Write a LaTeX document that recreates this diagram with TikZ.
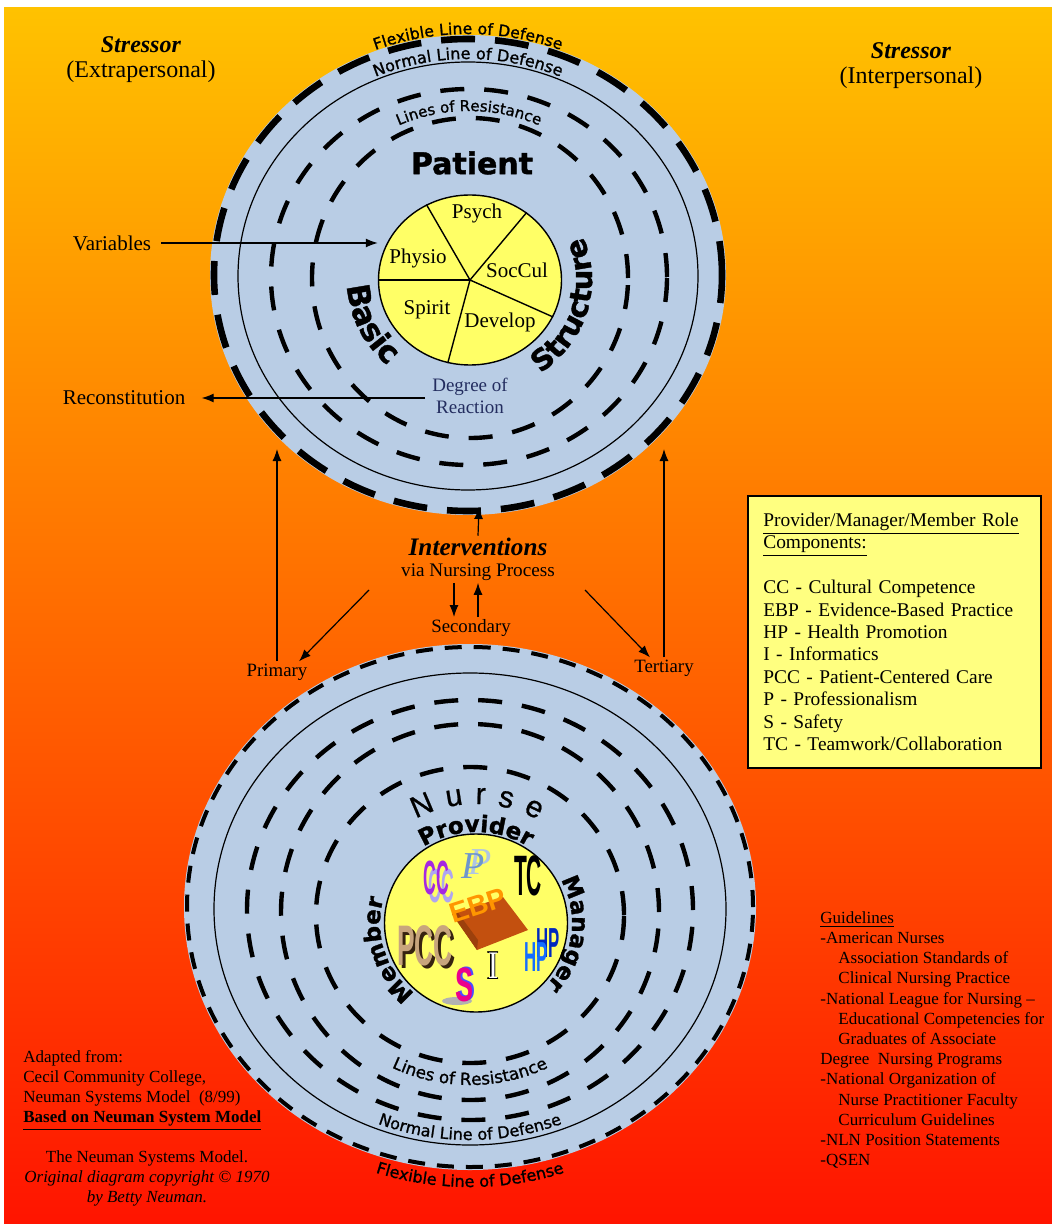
\documentclass[tikz,border=0pt]{standalone}
\usepackage{fontspec}
\usepackage{graphicx}
\setmainfont{Liberation Serif}
\newfontfamily\curvefont{DejaVu Sans}[FakeBold=1.2]
\newfontfamily\heavyfont{DejaVu Sans}[BoldFeatures={FakeBold=1.3}]
\newfontfamily\blockfont{Liberation Sans}
\newfontfamily\nursefont{Liberation Sans}[FakeBold=0.8]
\usetikzlibrary{arrows.meta,decorations.text,shapes.geometric,positioning}

\definecolor{bgtop}{RGB}{255,194,0}
\definecolor{bgmid}{RGB}{255,140,0}
\definecolor{bgbot}{RGB}{255,20,0}
\definecolor{ringblue}{RGB}{185,205,229}
\definecolor{coreyellow}{RGB}{255,255,102}
\definecolor{boxyellow}{RGB}{255,255,128}
\definecolor{reactblue}{RGB}{35,45,95}
\definecolor{ccpurple}{RGB}{165,40,225}
\definecolor{cclav}{RGB}{175,165,240}
\definecolor{pblue}{RGB}{110,150,205}
\definecolor{ebporange}{RGB}{255,150,0}
\definecolor{ebpbrown}{RGB}{195,80,15}
\definecolor{pcctan}{RGB}{200,165,125}
\definecolor{pccdark}{RGB}{55,35,15}
\definecolor{hpblue}{RGB}{20,110,255}
\definecolor{hpdark}{RGB}{0,40,190}

\newcommand\arcsize[1]{\curvefont\fontsize{#1}{#1}\selectfont}
\newcommand\heavysize[1]{\heavyfont\bfseries\fontsize{#1}{#1}\selectfont}

\begin{document}
\begin{tikzpicture}[x=0.5pt,y=0.5pt,
    arr/.style={-{Latex[length=6pt,width=4.5pt]},line width=0.6pt},
    flexring/.style={line width=3.3pt,dash pattern=on 17pt off 10pt},
    flexthin/.style={line width=2pt,dash pattern=on 8.5pt off 6pt},
    normring/.style={line width=0.6pt},
    resring/.style={line width=2.2pt,dash pattern=on 12pt off 10pt},
    core/.style={ellipse,draw,line width=0.7pt,fill=coreyellow,inner sep=0pt},
    lbl/.style={inner sep=1pt,font=\fontsize{10.5}{12}\selectfont},
    sml/.style={inner sep=1pt,font=\fontsize{9.4}{11}\selectfont},
    mark/.style={inner sep=0pt,font=\blockfont\bfseries\fontsize{#1}{#1}\selectfont}]

  % background
  \fill[white] (0,0) rectangle (1052,-1224);
  \shade[top color=bgtop,middle color=bgmid,bottom color=bgbot] (4,-8) rectangle (1052,-1224);

  % stressors
  \node[align=center,font=\fontsize{12}{12.5}\selectfont] (strL) at (141,-60) {\textbf{\textit{Stressor}}\\(Extrapersonal)};
  \node[align=center,font=\fontsize{12}{12.5}\selectfont] (strR) at (911,-66) {\textbf{\textit{Stressor}}\\(Interpersonal)};

  % patient circle
  \fill[ringblue] (468,-275) ellipse[x radius=258,y radius=240];
  \draw[flexring] (468,-275) ellipse[x radius=254,y radius=236];
  \draw[normring] (468,-276) ellipse[x radius=230,y radius=214];
  \draw[resring] (469,-277) ellipse[x radius=198,y radius=188];
  \draw[resring] (470,-278) ellipse[x radius=158,y radius=160];
  \path[decorate,decoration={text along path,text align=center,raise=1.5pt,
      text={|\arcsize{7.8}|Flexible Line of Defense}}]
    (468,-275) ++(140:256 and 238) arc[start angle=140,end angle=40,x radius=256,y radius=238];
  \path[decorate,decoration={text along path,text align=center,raise=1pt,
      text={|\arcsize{8}|Normal Line of Defense}}]
    (468,-276) ++(140:231 and 215) arc[start angle=140,end angle=40,x radius=231,y radius=215];
  \path[decorate,decoration={text along path,text align=center,
      text={|\arcsize{7.5}|Lines of Resistance}}]
    (469,-277) ++(140:172 and 166) arc[start angle=140,end angle=40,x radius=172,y radius=166];

  \node[font=\heavysize{15}] (patient) at (472,-163) {Patient};
  \node[core,minimum width=91.5pt,minimum height=85pt] (pcore) at (470,-280) {};
  \foreach \a in {120,50,336,255,180}
    \draw[line width=0.7pt] (pcore.center) -- (pcore.\a);
  \node[lbl] (psych) at (477,-213) {Psych};
  \node[lbl] (physio) at (418,-258) {Physio};
  \node[lbl] (soccul) at (517,-270) {SocCul};
  \node[lbl] (spirit) at (427,-310) {Spirit};
  \node[lbl] (develop) at (500,-322) {Develop};
  \path[decorate,decoration={text along path,text align=center,
      text={|\heavysize{15.5}|Basic}}]
    (470,-280) ++(160:123 and 115) arc[start angle=160,end angle=250,x radius=123,y radius=115];
  \path[decorate,decoration={text along path,text align=center,
      text={|\heavysize{14.5}|Structure}}]
    (470,-280) ++(-70:122 and 114) arc[start angle=-70,end angle=38,x radius=122,y radius=114];
  \node[align=center,text=reactblue,font=\fontsize{9.5}{11}\selectfont] (react) at (470,-396) {Degree of\\Reaction};

  % variables in, reconstitution out
  \node[lbl] (vars) at (112,-243) {Variables};
  \node[lbl] (recon) at (124,-398) {Reconstitution};
  \draw[arr,shorten <=4pt] (vars.east) -- (vars.east -| pcore.west);
  \draw[arr,shorten >=7pt] (react.west |- recon.east) -- (recon.east);

  % interventions
  \coordinate (pbot) at (479,-507);
  \coordinate (ptop) at (0,-449);
  \coordinate (fanL) at (369,-590);
  \coordinate (fanR) at (585,-590);
  \node[inner sep=1pt,font=\bfseries\itshape\fontsize{12.6}{13}\selectfont] (interv) at (478,-547) {Interventions};
  \node[sml,font=\fontsize{9.6}{11}\selectfont] (via) at (478,-572) {via Nursing Process};
  \node[sml] (second) at (471,-628) {Secondary};
  \node[sml] (primary) at (277,-672) {Primary};
  \node[sml] (tertiary) at (664,-668) {Tertiary};
  \draw[arr] (interv.north) -- (pbot);
  \draw[arr] ([xshift=-12pt]via.south) -- ([xshift=-12pt]via.south |- second.north);
  \draw[arr] (second.north -| interv.north) -- (via.south -| interv.north);
  \draw[arr] (fanL) -- ([xshift=11pt]primary.north);
  \draw[arr] (fanR) -- ([xshift=-7pt]tertiary.north);
  \draw[arr] (primary.north) -- (primary.north |- ptop);
  \draw[arr] (tertiary.north) -- (tertiary.north |- ptop);

  % nurse circle
  \fill[ringblue] (470,-907) ellipse[x radius=286,y radius=263];
  \draw[flexthin] (470,-907) ellipse[x radius=283,y radius=260];
  \draw[normring] (470,-909) ellipse[x radius=256,y radius=236];
  \draw[resring] (470,-910) ellipse[x radius=223,y radius=210];
  \draw[resring] (470,-912) ellipse[x radius=189,y radius=188];
  \draw[resring] (470,-915) ellipse[x radius=154,y radius=148];
  \path[decorate,decoration={text along path,text align=center,
      text={|\arcsize{8.4}|Lines of Resistance}}]
    (470,-913) ++(215:178 and 172) arc[start angle=215,end angle=325,x radius=178,y radius=172];
  \path[decorate,decoration={text along path,text align=center,
      text={|\arcsize{8}|Normal Line of Defense}}]
    (470,-909) ++(215:250 and 231) arc[start angle=215,end angle=325,x radius=250,y radius=231];
  \path[decorate,decoration={text along path,text align=center,
      text={|\arcsize{8}|Flexible Line of Defense}}]
    (470,-907) ++(215:298 and 280) arc[start angle=215,end angle=325,x radius=298,y radius=280];

  \node[core,minimum width=91.5pt,minimum height=89pt] (ncore) at (476,-923) {};
  \path[decorate,decoration={text along path,text align=fit to path,
      text={|\nursefont\fontsize{15}{15}\selectfont|Nurse}}]
    (476,-923) ++(119:124 and 119) arc[start angle=119,end angle=60,x radius=124,y radius=119];
  \path[decorate,decoration={text along path,text align=center,
      text={|\heavysize{11.5}|Provider}}]
    (476,-923) ++(160:96 and 91) arc[start angle=160,end angle=20,x radius=96,y radius=91];
  \path[decorate,decoration={text along path,text align=center,
      text={|\heavysize{11.5}|Manager}}]
    (476,-923) ++(55:96 and 91) arc[start angle=55,end angle=-69,x radius=96,y radius=91];
  \path[decorate,decoration={text along path,text align=center,
      text={|\heavysize{11.5}|Member}}]
    (476,-923) ++(260:96 and 91) arc[start angle=260,end angle=134,x radius=96,y radius=91];

  % role marks
  \node[mark=16,text=cclav] (cc2) at (441,-886) {\scalebox{0.55}[1.5]{CC}};
  \node[mark=16,text=ccpurple] (cc) at (436,-878) {\scalebox{0.55}[1.5]{CC}};
  \node[inner sep=0pt,text=pblue!55,font=\itshape\fontsize{19}{19}\selectfont] (p2) at (480,-862) {P};
  \node[inner sep=0pt,text=pblue,font=\itshape\fontsize{19}{19}\selectfont] (p) at (473,-866) {P};
  \node[mark=15] (tc) at (528,-876) {\scalebox{0.7}[1.9]{TC}};
  \fill[ebpbrown] (452,-914) -- (503,-897) -- (528,-930) -- (477,-950) -- cycle;
  \fill[ebpbrown!80!black] (452,-914) -- (477,-950) -- (478,-940) -- (456,-910) -- cycle;
  \node[mark=14,text=ebporange,rotate=18] (ebp) at (478,-905) {EBP};
  \node[mark=22,text=pccdark] (pcc2) at (428,-949) {\scalebox{0.6}[1.3]{PCC}};
  \node[mark=22,text=pcctan] (pcc) at (425,-946) {\scalebox{0.6}[1.3]{PCC}};
  \fill[gray!60] (457,-1001) ellipse[x radius=15,y radius=4];
  \node[mark=15,text=blue!70] (s2) at (466,-984) {\scalebox{0.9}[1.6]{S}};
  \node[mark=15,text=magenta] (s) at (464,-985) {\scalebox{0.9}[1.6]{S}};
  \node[inner sep=0pt,font=\bfseries\fontsize{17}{17}\selectfont] (i2) at (493,-966) {\scalebox{1}[1.25]{I}};
  \node[inner sep=0pt,text=white,font=\fontsize{15}{15}\selectfont] (i) at (493,-966) {\scalebox{1}[1.3]{I}};
  \node[mark=14,text=hpdark] (hp2) at (548,-943) {\scalebox{0.6}[1.5]{HP}};
  \node[mark=14,text=hpblue] (hp) at (536,-957) {\scalebox{0.6}[1.5]{HP}};

  % role components box
  \node[draw,line width=0.8pt,fill=boxyellow,anchor=north west,minimum width=146.5pt,
        minimum height=136pt,text width=131pt,inner xsep=7.5pt,align=left,
        font=\fontsize{9.7}{11.2}\selectfont] (roles) at (747,-495)
    {\underline{Provider/Manager/Member Role}\\ \underline{Components:}\\[11.2pt]
     CC - Cultural Competence\\ EBP - Evidence-Based Practice\\ HP - Health Promotion\\
     I - Informatics\\ PCC - Patient-Centered Care\\ P - Professionalism\\
     S - Safety\\ TC - Teamwork/Collaboration};

  % guidelines
  \node[anchor=north west,inner sep=0pt,align=left,font=\fontsize{8.5}{10.1}\selectfont] (guide) at (820,-911)
    {\underline{Guidelines}\\ -American Nurses\\ \hspace*{9pt}Association Standards of\\
     \hspace*{9pt}Clinical Nursing Practice\\ -National League for Nursing --\\
     \hspace*{9pt}Educational Competencies for\\ \hspace*{9pt}Graduates of Associate\\
     Degree\ \ Nursing Programs\\ -National Organization of\\ \hspace*{9pt}Nurse Practitioner Faculty\\
     \hspace*{9pt}Curriculum Guidelines\\ -NLN Position Statements\\ -QSEN};

  % credits
  \node[anchor=north west,inner sep=0pt,align=left,font=\fontsize{8.5}{10.1}\selectfont] (adapt) at (23,-1050)
    {Adapted from:\\ Cecil Community College,\\ Neuman Systems Model\ \ (8/99)\\
     \textbf{\underline{Based on Neuman System Model}}};
  \node[anchor=north,inner sep=0pt,align=center,font=\fontsize{8.5}{10.1}\selectfont] (credit) at (147,-1150)
    {The Neuman Systems Model.\\ \textit{Original diagram copyright \textcopyright\ 1970}\\ \textit{by Betty Neuman.}};
\end{tikzpicture}
\end{document}
